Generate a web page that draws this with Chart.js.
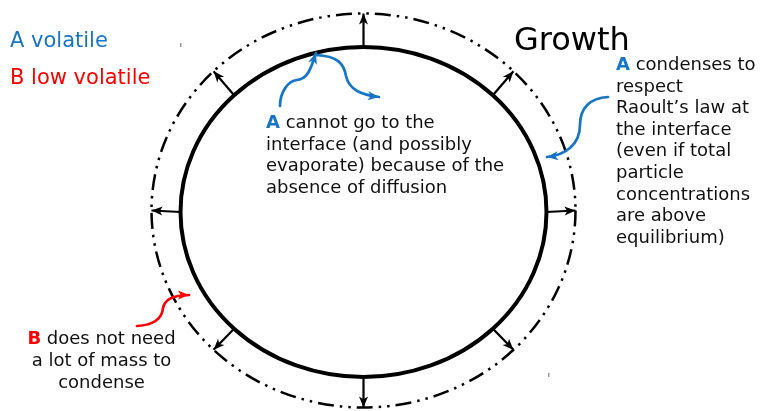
<html>
<head>
<style>
body { margin: 0; background: #fff; }
div.chart-box { width: 762px; height: 411px; }
</style>
<script src="https://cdn.jsdelivr.net/npm/chart.js"></script>
</head>
<body>
<div class="chart-box"><canvas id="diagram"></canvas></div>
<script>
// data space is 0..762 x 0..411, y going down
const innerEllipse = [363.5, 212, 183, 165];   // cx, cy, rx, ry
const outerEllipse = [363.5, 210.5, 212, 197];
const arrowAngles = [0, 45, 90, 135, 180, 225, 270, 315];

// curvy arrows: start, then cubic segments (cp1, cp2, end)
const curveIn = [[280,106],[280,92],[288,81],[297,80],[308,79],[311,68],[316,53]];
const curveOut = [[316,55],[338,56],[344,64],[346,76],[349,90],[362,95],[379,97]];
const curveRight = [[608,97],[590,98],[580,108],[580,125],[580,145],[565,155],[547,157]];
const curveRed = [[137,326],[152,325],[162,320],[163,308],[165,298],[175,295],[189,295]];

// faint specks in the source picture
const specks = [[180, 43], [548, 373]];

const legendLabels = ['A volatile', 'B low volatile'];
const legendColors = ['#1874c4', '#ff0000'];
const legendPos = [[10, 47], [10, 84]];

const titleText = 'Growth';
const titlePos = [514, 50];

const noteCenter = ['A', ' cannot go to the', 'interface (and possibly', 'evaporate) because of the', 'absence of diffusion'];
const noteRight = ['A', ' condenses to', 'respect', 'Raoult\u2019s law at', 'the interface', '(even if total', 'particle', 'concentrations', 'are above', 'equilibrium)'];
const noteLeft = ['B', ' does not need', 'a lot of mass to', 'condense'];

const BLUE = '#1874c4';
const RED = '#ff0000';
const INK = '#111';
const FONT = '"DejaVu Sans", sans-serif';

function ellipsePoint(e, deg) {
  const a = deg * Math.PI / 180;
  return {x: e[0] + e[2] * Math.cos(a), y: e[1] - e[3] * Math.sin(a)};
}

const arrowSets = arrowAngles.map(function (deg) {
  return {
    data: [ellipsePoint(innerEllipse, deg), ellipsePoint(outerEllipse, deg)],
    showLine: true,
    borderColor: '#000',
    borderWidth: 2.2,
    pointRadius: 0
  };
});

function head(ctx, x0, y0, x1, y1, len, wid, color) {
  const a = Math.atan2(y1 - y0, x1 - x0);
  ctx.save();
  ctx.translate(x1, y1);
  ctx.rotate(a);
  ctx.fillStyle = color;
  ctx.beginPath();
  ctx.moveTo(0, 0);
  ctx.lineTo(-len, -wid / 2);
  ctx.lineTo(-len * 0.75, 0);
  ctx.lineTo(-len, wid / 2);
  ctx.closePath();
  ctx.fill();
  ctx.restore();
}

const diagramPlugin = {
  id: 'diagram',
  beforeDatasetsDraw(chart) {
    const ctx = chart.ctx, xs = chart.scales.x, ys = chart.scales.y;
    const px = v => xs.getPixelForValue(v), py = v => ys.getPixelForValue(v);
    function drawEllipse(e, width, dash) {
      ctx.save();
      ctx.strokeStyle = '#000';
      ctx.lineWidth = width;
      ctx.setLineDash(dash);
      ctx.beginPath();
      ctx.ellipse(px(e[0]), py(e[1]), px(e[0] + e[2]) - px(e[0]), py(e[1] + e[3]) - py(e[1]), 0, 0, Math.PI * 2);
      ctx.stroke();
      ctx.restore();
    }
    drawEllipse(outerEllipse, 2.5, [16, 6, 2.5, 6, 2.5, 6]);
    drawEllipse(innerEllipse, 4, []);

    ctx.save();
    ctx.fillStyle = '#999';
    specks.forEach(function (s) {
      ctx.fillRect(px(s[0]), py(s[1]), 1.5, 4);
    });
    ctx.restore();
  },
  afterDatasetsDraw(chart) {
    const ctx = chart.ctx, xs = chart.scales.x, ys = chart.scales.y;
    const px = v => xs.getPixelForValue(v), py = v => ys.getPixelForValue(v);

    // heads of the straight growth arrows
    chart.data.datasets.forEach(function (ds) {
      const a = ds.data[0], b = ds.data[1];
      head(ctx, px(a.x), py(a.y), px(b.x), py(b.y), 11, 9, '#000');
    });

    function curve(pts, color) {
      ctx.save();
      ctx.strokeStyle = color;
      ctx.lineWidth = 2.7;
      ctx.lineCap = 'round';
      ctx.beginPath();
      ctx.moveTo(px(pts[0][0]), py(pts[0][1]));
      for (let i = 1; i + 2 < pts.length; i += 3) {
        ctx.bezierCurveTo(px(pts[i][0]), py(pts[i][1]), px(pts[i+1][0]), py(pts[i+1][1]), px(pts[i+2][0]), py(pts[i+2][1]));
      }
      ctx.stroke();
      ctx.restore();
      const n = pts.length;
      head(ctx, px(pts[n-2][0]), py(pts[n-2][1]), px(pts[n-1][0]), py(pts[n-1][1]), 11, 9, color);
    }
    curve(curveIn, BLUE);
    curve(curveOut, BLUE);
    curve(curveRight, BLUE);
    curve(curveRed, RED);

    ctx.save();
    ctx.textBaseline = 'alphabetic';
    ctx.textAlign = 'left';

    // legend
    ctx.font = '21px ' + FONT;
    legendLabels.forEach(function (t, i) {
      ctx.fillStyle = legendColors[i];
      ctx.fillText(t, px(legendPos[i][0]), py(legendPos[i][1]));
    });

    ctx.fillStyle = '#000';
    ctx.font = '32px ' + FONT;
    ctx.fillText(titleText, px(titlePos[0]), py(titlePos[1]));

    function note(lines, x, y, step, color, centered) {
      const first = lines[0], rest = lines.slice(1);
      rest.forEach(function (t, i) {
        let x0 = x;
        if (i === 0) {
          ctx.font = 'bold 18px ' + FONT;
          const bw = ctx.measureText(first).width;
          ctx.font = '18px ' + FONT;
          const tw = ctx.measureText(t).width;
          if (centered) x0 = x - (bw + tw) / 2;
          ctx.font = 'bold 18px ' + FONT;
          ctx.fillStyle = color;
          ctx.fillText(first, px(x0), py(y));
          ctx.font = '18px ' + FONT;
          ctx.fillStyle = INK;
          ctx.fillText(t, px(x0 + bw), py(y));
        } else {
          ctx.font = '18px ' + FONT;
          if (centered) x0 = x - ctx.measureText(t).width / 2;
          ctx.fillStyle = INK;
          ctx.fillText(t, px(x0), py(y + i * step));
        }
      });
    }
    note(noteCenter, 266, 128, 21.6, BLUE, false);
    note(noteRight, 616, 70, 21.6, BLUE, false);
    note(noteLeft, 101.5, 344, 22, RED, true);
    ctx.restore();
  }
};

new Chart(document.getElementById('diagram'), {
  type: 'scatter',
  data: { datasets: arrowSets },
  options: {
    responsive: true,
    maintainAspectRatio: false,
    animation: false,
    layout: { padding: 0 },
    plugins: { legend: { display: false }, tooltip: { enabled: false } },
    scales: {
      x: { type: 'linear', min: 0, max: 762, display: false },
      y: { type: 'linear', min: 0, max: 411, reverse: true, display: false }
    }
  },
  plugins: [diagramPlugin]
});
</script>
</body>
</html>
